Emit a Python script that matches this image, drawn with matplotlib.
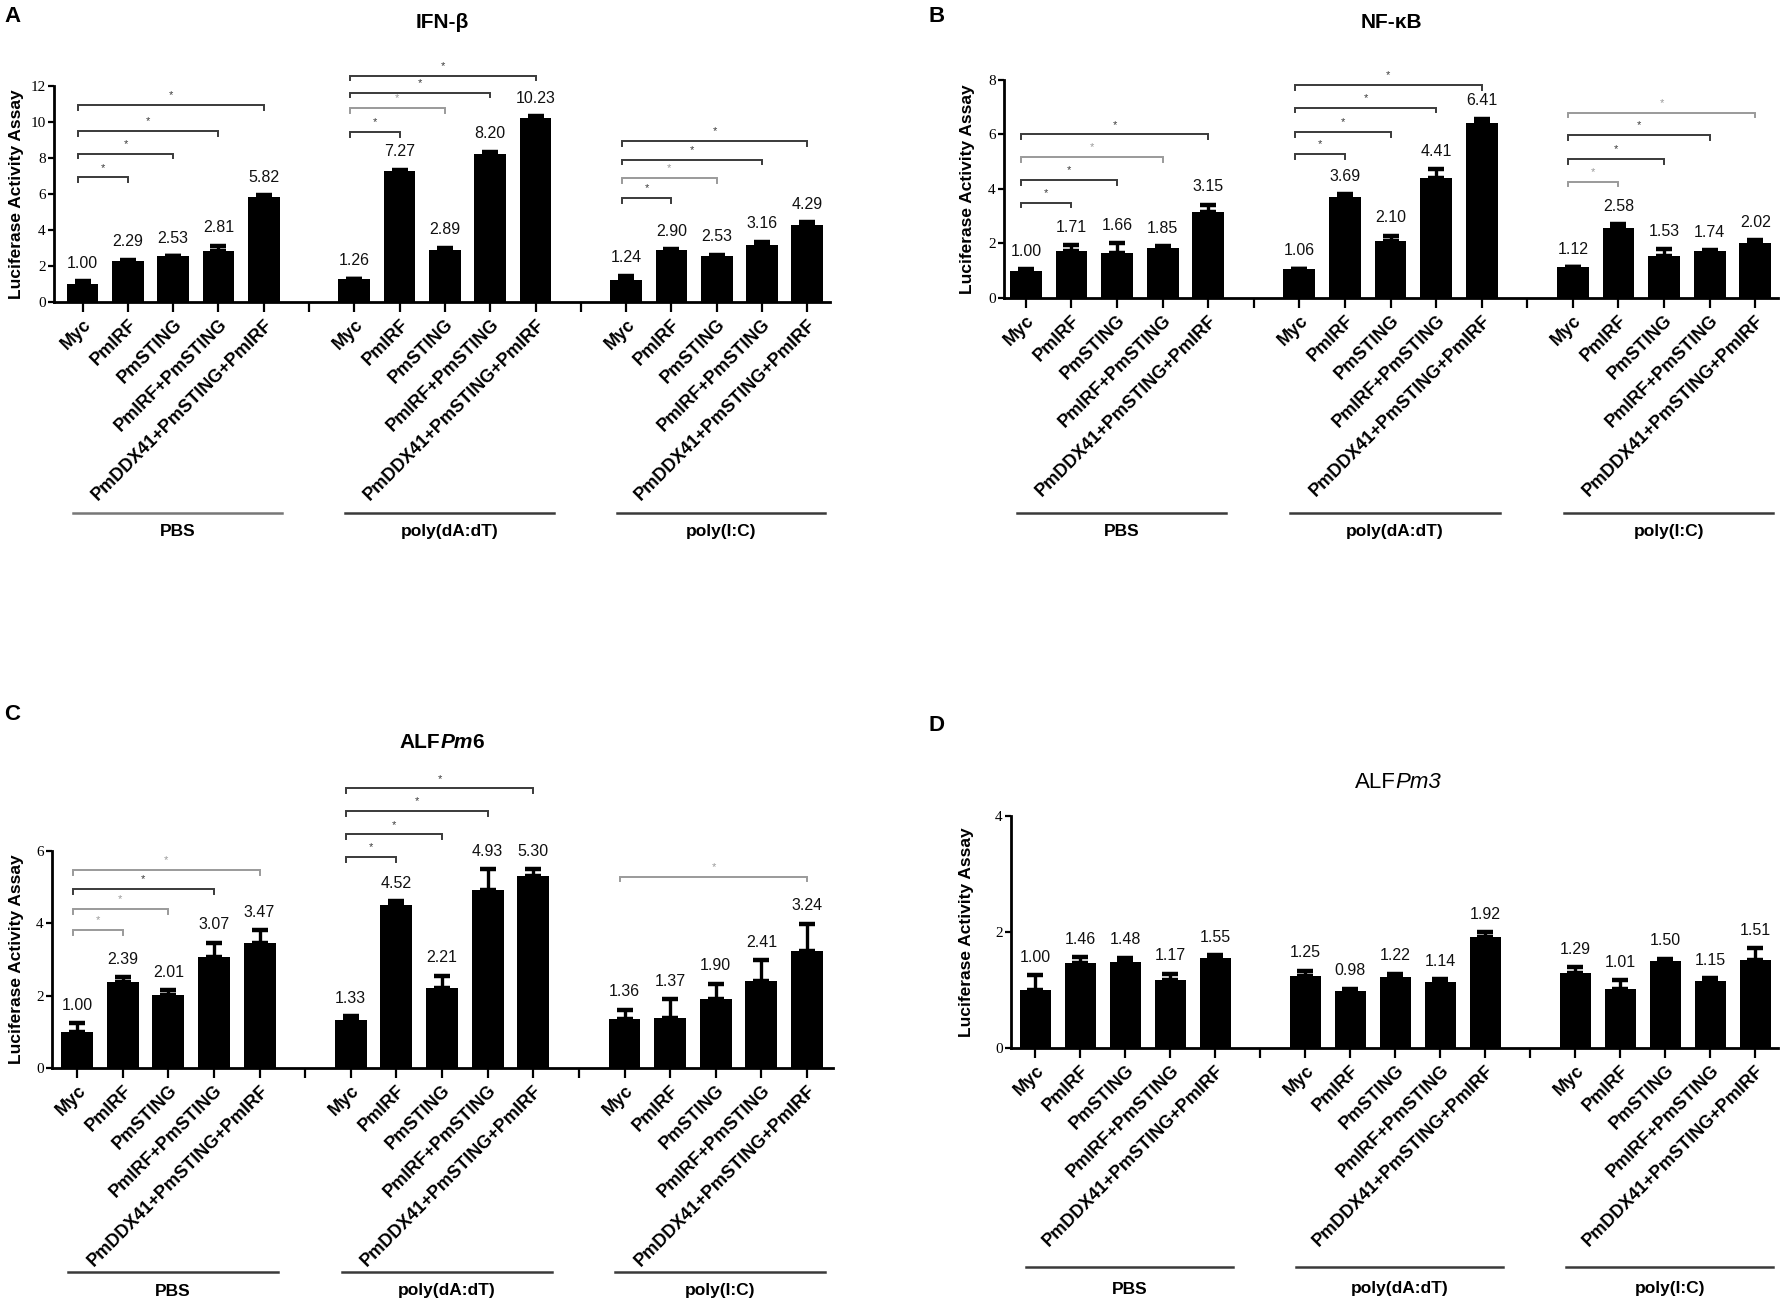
import matplotlib
matplotlib.use('Agg')
import matplotlib.pyplot as plt
from matplotlib import font_manager
from matplotlib.transforms import blended_transform_factory

SANS = 'Liberation Sans'
SERIF = 'Liberation Serif'
_names = {f.name for f in font_manager.fontManager.ttflist}
if 'Liberation Sans Narrow' in _names:
    VAL_FONT, VAL_SIZE = 'Liberation Sans Narrow', 13
else:
    VAL_FONT, VAL_SIZE = 'Liberation Sans', 11.5

# ---------------- data ----------------
groups = ['PBS', 'poly(dA:dT)', 'poly(I:C)']
constructs = ['Myc', 'PmIRF', 'PmSTING', 'PmIRF+PmSTING', 'PmDDX41+PmSTING+PmIRF']

ifnb_values = [[1.00, 2.29, 2.53, 2.81, 5.82],
               [1.26, 7.27, 2.89, 8.20, 10.23],
               [1.24, 2.90, 2.53, 3.16, 4.29]]
ifnb_errors = [[0.17, 0.05, 0.03, 0.31, 0.10],
               [0.03, 0.07, 0.12, 0.15, 0.08],
               [0.23, 0.03, 0.10, 0.20, 0.13]]
ifnb_brackets = [[6.92, 8.24, 9.49, 10.94],
                 [9.45, 10.77, 11.63, 12.58],
                 [5.78, 6.88, 7.91, 8.94]]

nfkb_values = [[1.00, 1.71, 1.66, 1.85, 3.15],
               [1.06, 3.69, 2.10, 4.41, 6.41],
               [1.12, 2.58, 1.53, 1.74, 2.02]]
nfkb_errors = [[0.05, 0.23, 0.34, 0.04, 0.28],
               [0.02, 0.12, 0.19, 0.31, 0.17],
               [0.02, 0.13, 0.25, 0.02, 0.10]]
nfkb_brackets = [[3.50, 4.33, 5.18, 6.00],
                 [5.28, 6.10, 6.99, 7.82],
                 [4.27, 5.10, 5.97, 6.80]]

alf6_values = [[1.00, 2.39, 2.01, 3.07, 3.47],
               [1.33, 4.52, 2.21, 4.93, 5.30],
               [1.36, 1.37, 1.90, 2.41, 3.24]]
alf6_errors = [[0.24, 0.12, 0.14, 0.40, 0.34],
               [0.11, 0.09, 0.34, 0.57, 0.20],
               [0.25, 0.53, 0.43, 0.57, 0.75]]
alf6_brackets = [[3.82, 4.40, 4.94, 5.47],
                 [5.84, 6.46, 7.10, 7.73],
                 [None, None, None, 5.29]]

alf3_values = [[1.00, 1.46, 1.48, 1.17, 1.55],
               [1.25, 0.98, 1.22, 1.14, 1.92],
               [1.29, 1.01, 1.50, 1.15, 1.51]]
alf3_errors = [[0.26, 0.11, 0.08, 0.11, 0.05],
               [0.08, 0.04, 0.06, 0.05, 0.08],
               [0.10, 0.16, 0.04, 0.05, 0.21]]
alf3_brackets = [[None] * 4, [None] * 4, [None] * 4]

y_label = 'Luciferase Activity Assay'

# ---------------- style ----------------
DK, LT = '#3a3a3a', '#9a9a9a'
W, H = 1781, 1298
fig = plt.figure(figsize=(W / 100, H / 100), dpi=100)
fig.patch.set_facecolor('white')
renderer = fig.canvas.get_renderer()


def fx(px):
    return px / W


def fy(py):
    return 1 - py / H


def mixed_text(parts, xc, yc, size):
    """parts: list of (text, weight, style), centred at pixel (xc, yc)."""
    objs = []
    for txt, wt, st in parts:
        objs.append(fig.text(0, fy(yc), txt, fontsize=size, fontweight=wt,
                             fontstyle=st, family=SANS, ha='left', va='center'))
    widths = [o.get_window_extent(renderer).width for o in objs]
    x = xc - sum(widths) / 2
    for o, w in zip(objs, widths):
        o.set_x(fx(x))
        x += w


panels = [
    dict(vals=ifnb_values, errs=ifnb_errors, br=ifnb_brackets,
         brc=[[DK, DK, DK, DK], [DK, LT, DK, DK], [DK, LT, DK, DK]],
         box=(54, 86, 830, 302), ymax=12, xlim=(-0.63, 16.5),
         letter=('A', 4, 17), title=[('IFN-β', 'bold', 'normal')], tpos=(442, 23), tsize=15,
         ylx=17, uline=513, glab=531, ulc=['#777', DK, DK]),
    dict(vals=nfkb_values, errs=nfkb_errors, br=nfkb_brackets,
         brc=[[DK, DK, LT, DK], [DK, DK, DK, DK], [LT, DK, DK, LT]],
         box=(1004, 80, 1778, 298), ymax=8, xlim=(-0.48, 16.5),
         letter=('B', 929, 17), title=[('NF-κB', 'bold', 'normal')], tpos=(1391, 22), tsize=15,
         ylx=968, uline=513, glab=531, ulc=[DK, DK, DK]),
    dict(vals=alf6_values, errs=alf6_errors, br=alf6_brackets,
         brc=[[LT, LT, DK, LT], [DK, DK, DK, DK], [DK, DK, DK, LT]],
         box=(52, 851, 833, 1068), ymax=6, xlim=(-0.55, 16.57),
         letter=('C', 4, 715),
         title=[('ALF', 'bold', 'normal'), ('Pm', 'bold', 'italic'), ('6', 'bold', 'normal')],
         tpos=(442, 743), tsize=15, ylx=17, uline=1272, glab=1291, ulc=[DK, DK, DK]),
    dict(vals=alf3_values, errs=alf3_errors, br=alf3_brackets,
         brc=[[DK] * 4] * 3,
         box=(1011, 816, 1778, 1048), ymax=4, xlim=(-0.54, 16.5),
         letter=('D', 929, 725), title=[('ALF', 'normal', 'normal'), ('Pm3', 'normal', 'italic')],
         tpos=(1398, 782), tsize=16, ylx=967, uline=1267, glab=1289, ulc=[DK, DK, DK]),
]

for P in panels:
    l, t, r, b = P['box']
    ax = fig.add_axes([fx(l), fy(b), fx(r - l), (b - t) / H])
    ymax = P['ymax']
    pos, vals, errs = [], [], []
    for g in range(3):
        for i in range(5):
            pos.append(g * 6 + i)
            vals.append(P['vals'][g][i])
            errs.append(P['errs'][g][i])
    ax.errorbar(pos, vals, yerr=[[0] * len(errs), errs], fmt='none', ecolor='black',
                elinewidth=2.4, capsize=5.5, capthick=3.2, zorder=1)
    ax.bar(pos, vals, width=0.7, color='black', zorder=2)
    for p, v, e in zip(pos, vals, errs):
        ax.annotate(f'{v:.2f}', (p, v + e), xytext=(0, 7.5), textcoords='offset points',
                    ha='center', va='bottom', fontsize=VAL_SIZE, family=VAL_FONT, color='#111')
    # significance brackets
    d = 0.022 * ymax
    for g in range(3):
        for j, h in enumerate(P['br'][g]):
            if h is None:
                continue
            x0 = g * 6 - 0.1
            x1 = g * 6 + j + 1
            c = P['brc'][g][j]
            ax.plot([x0, x0, x1, x1], [h - d, h, h, h - d], color=c, lw=1.4,
                    clip_on=False, solid_joinstyle='miter')
            ax.text((x0 + x1) / 2, h + 0.045 * ymax, '*', ha='center', va='center',
                    fontsize=8, color=c, family=SANS)
    ax.set_xlim(*P['xlim'])
    ax.set_ylim(0, ymax)
    ax.set_yticks(range(0, ymax + 1, 2))
    ax.set_yticklabels([str(v) for v in range(0, ymax + 1, 2)], family=SERIF, fontsize=11)
    ax.set_xticks(range(17))
    labels = []
    for k in range(17):
        labels.append('' if k % 6 == 5 else constructs[k % 6])
    ax.set_xticklabels(labels, rotation=45, ha='right', rotation_mode='anchor',
                       fontweight='bold', fontsize=13, family=SANS)
    ax.tick_params(axis='x', length=7, width=1.6, direction='out', pad=3)
    ax.tick_params(axis='y', length=4, width=1.6, direction='out', pad=2)
    for s in ('top', 'right'):
        ax.spines[s].set_visible(False)
    for s in ('left', 'bottom'):
        ax.spines[s].set_linewidth(2.0)
    ax.set_facecolor('none')
    # group underline + labels
    tr = blended_transform_factory(ax.transData, fig.transFigure)
    for g, name in enumerate(groups):
        x0, x1 = g * 6 - 0.2, g * 6 + 4.4
        ax.plot([x0, x1], [fy(P['uline'])] * 2, transform=tr, color=P['ulc'][g],
                lw=1.8, clip_on=False)
        ax.text((x0 + x1) / 2, fy(P['glab']), name, transform=tr, ha='center',
                va='center', fontsize=12.5, fontweight='bold', family=SANS)
    # y label
    fig.text(fx(P['ylx']), fy((t + b) / 2), y_label, rotation=90, ha='center', va='center',
             fontsize=12.5, fontweight='bold', family=SANS)
    # panel letter
    L, lx, ly = P['letter']
    fig.text(fx(lx), fy(ly), L, ha='left', va='center', fontsize=16, fontweight='bold', family=SANS)
    # title
    mixed_text(P['title'], P['tpos'][0], P['tpos'][1], P['tsize'])

fig.savefig('out.png', dpi=100, facecolor='white')
